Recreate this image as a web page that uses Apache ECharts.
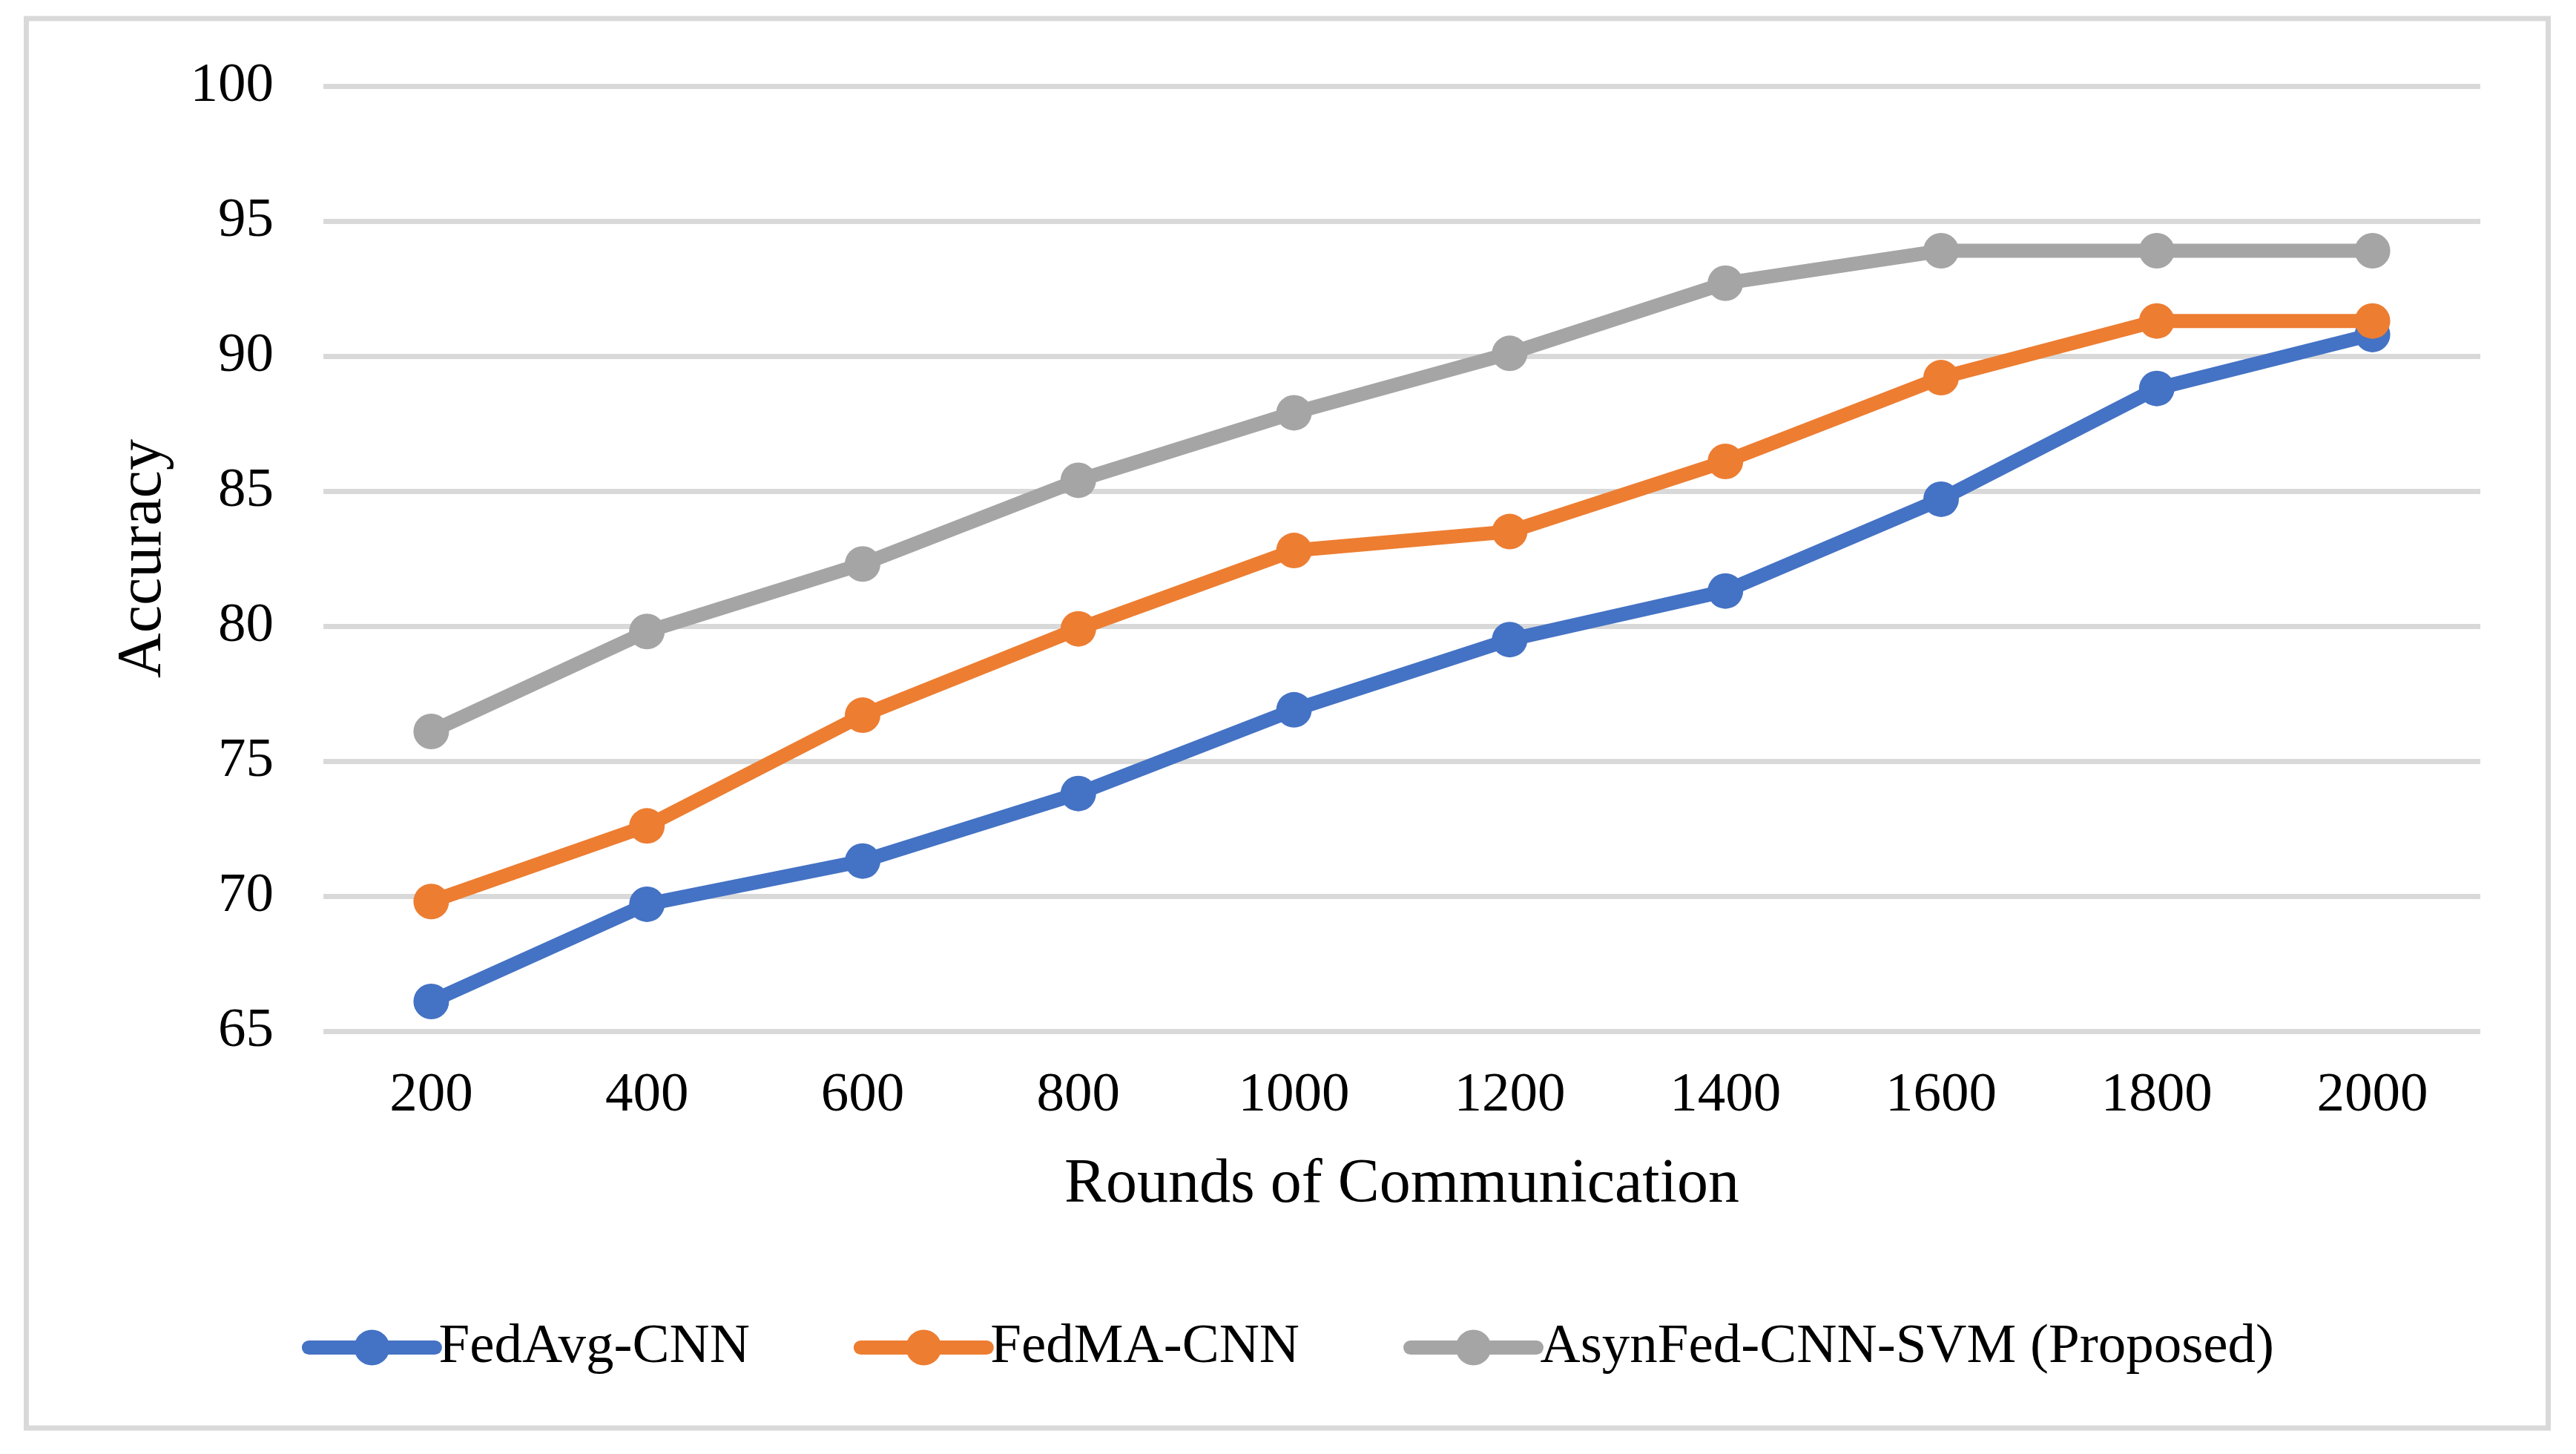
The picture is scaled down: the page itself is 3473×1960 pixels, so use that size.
<!DOCTYPE html>
<html>
<head>
<meta charset="utf-8">
<script src="https://cdn.jsdelivr.net/npm/echarts@6/dist/echarts.min.js"></script>
<style>
html,body{margin:0;padding:0;background:#fff;}
#chart{width:3473px;height:1960px;}
</style>
</head>
<body>
<div id="chart"></div>
<script>
const categories = ['200','400','600','800','1000','1200','1400','1600','1800','2000'];
const fedAvgCNN = [66.1, 69.7, 71.3, 73.8, 76.9, 79.5, 81.3, 84.7, 88.8, 90.8];
const fedMACNN = [69.8, 72.6, 76.7, 79.9, 82.8, 83.5, 86.1, 89.2, 91.3, 91.3];
const asynFed = [76.1, 79.8, 82.3, 85.4, 87.9, 90.1, 92.7, 93.9, 93.9, 93.9];
const seriesNames = ['FedAvg-CNN', 'FedMA-CNN', 'AsynFed-CNN-SVM (Proposed)'];
const seriesColors = ['#4472C4', '#ED7D31', '#A5A5A5'];
const xTitle = 'Rounds of Communication';
const yTitle = 'Accuracy';

const FONT = 'Liberation Serif';
const chart = echarts.init(document.getElementById('chart'), null, {renderer: 'canvas'});

function mkSeries(name, data, color) {
  return {
    name: name,
    type: 'line',
    data: data,
    symbol: 'circle',
    symbolSize: 48,
    showSymbol: true,
    itemStyle: {color: color},
    lineStyle: {color: color, width: 19, join: 'round', cap: 'round'},
    emphasis: {disabled: true},
    animation: false
  };
}

chart.setOption({
  backgroundColor: '#ffffff',
  animation: false,
  graphic: [{
    type: 'rect',
    shape: {x: 35.5, y: 25, width: 3400, height: 1900},
    style: {fill: 'none', stroke: '#D9D9D9', lineWidth: 7},
    silent: true,
    z: -10
  }],
  grid: {left: 436, right: 129, top: 116, bottom: 1960 - 1390, containLabel: false},
  xAxis: {
    type: 'category',
    data: categories,
    boundaryGap: true,
    axisLine: {show: false},
    axisTick: {show: false},
    axisLabel: {fontFamily: FONT, fontSize: 75, color: '#000', margin: 50},
    name: xTitle,
    nameLocation: 'middle',
    nameGap: 166,
    nameTextStyle: {fontFamily: FONT, fontSize: 84, color: '#000'}
  },
  yAxis: {
    type: 'value',
    min: 65,
    max: 100,
    interval: 5,
    axisLine: {show: false},
    axisTick: {show: false},
    axisLabel: {fontFamily: FONT, fontSize: 75, color: '#000', margin: 67},
    splitLine: {show: true, lineStyle: {color: '#D9D9D9', width: 7}},
    name: yTitle,
    nameLocation: 'middle',
    nameGap: 200,
    nameTextStyle: {fontFamily: FONT, fontSize: 84, color: '#000'}
  },
  legend: {
    data: seriesNames,
    left: 'center',
    top: 1779,
    padding: 0,
    itemWidth: 170,
    itemHeight: 60,
    itemGap: 140,
    lineStyle: {width: 19, cap: 'round'},
    textStyle: {fontFamily: FONT, fontSize: 75, color: '#000'}
  },
  series: [
    mkSeries(seriesNames[0], fedAvgCNN, seriesColors[0]),
    mkSeries(seriesNames[1], fedMACNN, seriesColors[1]),
    mkSeries(seriesNames[2], asynFed, seriesColors[2])
  ]
});
</script>
</body>
</html>
